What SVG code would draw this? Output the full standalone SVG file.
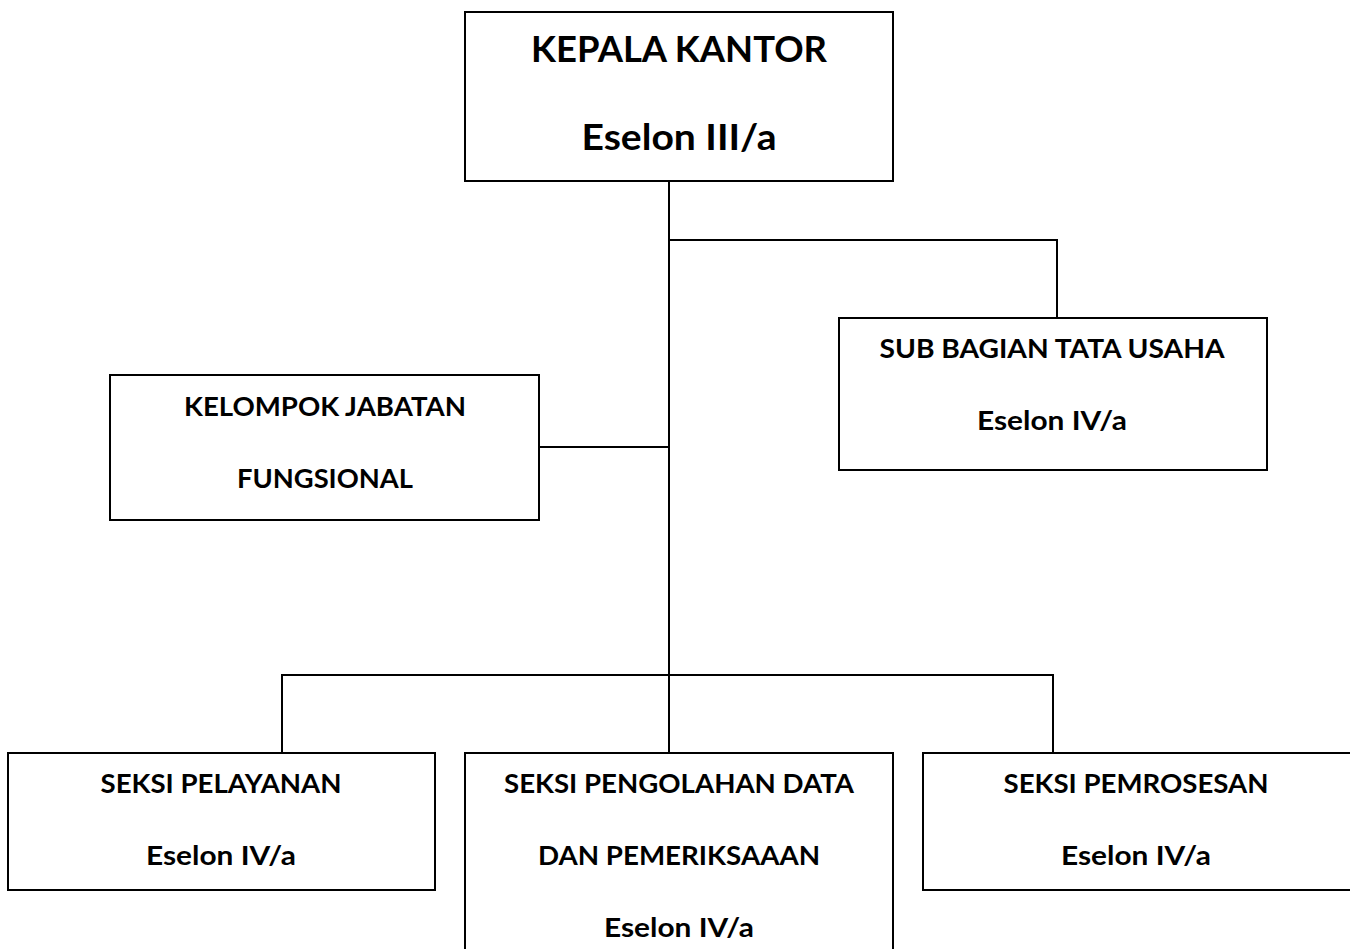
<svg xmlns="http://www.w3.org/2000/svg" width="1350" height="949" viewBox="0 0 1350 949">
<style>
.box{fill:#fff;stroke:#000;stroke-width:2}
.ln{fill:none;stroke:#000;stroke-width:2}
text{font-family:Lato,"Open Sans","Liberation Sans",sans-serif;font-weight:bold;fill:#000;text-anchor:middle}
.big{font-size:37px}
.sm{font-size:27.5px}
</style>
<rect width="1350" height="949" fill="#fff"/>
<g id="connectors">
<path class="ln" d="M669 181V675"/>
<path class="ln" d="M669 240H1057V318"/>
<path class="ln" d="M539 447H669"/>
<path class="ln" d="M282 753V675H1053V753"/>
<path class="ln" d="M669 675V753"/>
</g>
<g id="kepala">
<rect class="box" x="465" y="12" width="428" height="169"/>
<text class="big" x="679" y="62" textLength="296" lengthAdjust="spacingAndGlyphs">KEPALA KANTOR</text>
<text class="big" x="679" y="150" textLength="195" lengthAdjust="spacingAndGlyphs">Eselon III/a</text>
</g>
<g id="tatausaha">
<rect class="box" x="839" y="318" width="428" height="152"/>
<text class="sm" x="1052" y="358" textLength="345" lengthAdjust="spacingAndGlyphs">SUB BAGIAN TATA USAHA</text>
<text class="sm" x="1052" y="430" textLength="150" lengthAdjust="spacingAndGlyphs">Eselon IV/a</text>
</g>
<g id="fungsional">
<rect class="box" x="110" y="375" width="429" height="145"/>
<text class="sm" x="325" y="416" textLength="282" lengthAdjust="spacingAndGlyphs">KELOMPOK JABATAN</text>
<text class="sm" x="325" y="488" textLength="176" lengthAdjust="spacingAndGlyphs">FUNGSIONAL</text>
</g>
<g id="pelayanan">
<rect class="box" x="8" y="753" width="427" height="137"/>
<text class="sm" x="221" y="793" textLength="241" lengthAdjust="spacingAndGlyphs">SEKSI PELAYANAN</text>
<text class="sm" x="221" y="865" textLength="150" lengthAdjust="spacingAndGlyphs">Eselon IV/a</text>
</g>
<g id="pengolahan">
<rect class="box" x="465" y="753" width="428" height="210"/>
<text class="sm" x="679" y="793" textLength="350" lengthAdjust="spacingAndGlyphs">SEKSI PENGOLAHAN DATA</text>
<text class="sm" x="679" y="865" textLength="282" lengthAdjust="spacingAndGlyphs">DAN PEMERIKSAAAN</text>
<text class="sm" x="679" y="937" textLength="150" lengthAdjust="spacingAndGlyphs">Eselon IV/a</text>
</g>
<g id="pemrosesan">
<rect class="box" x="923" y="753" width="440" height="137"/>
<text class="sm" x="1136" y="793" textLength="265" lengthAdjust="spacingAndGlyphs">SEKSI PEMROSESAN</text>
<text class="sm" x="1136" y="865" textLength="150" lengthAdjust="spacingAndGlyphs">Eselon IV/a</text>
</g>
</svg>
